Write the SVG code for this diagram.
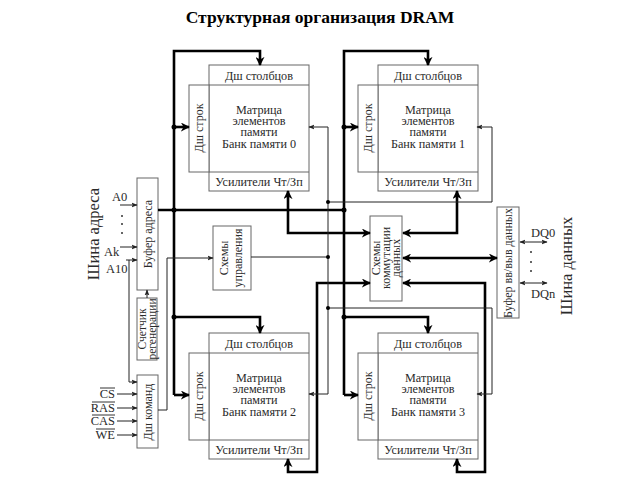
<svg xmlns="http://www.w3.org/2000/svg" width="640" height="480" viewBox="0 0 640 480">
<style>
text{font-family:"Liberation Serif","Times New Roman",serif;fill:#2a2a2a}
.t{font-size:12.2px;text-anchor:middle}
.r{font-size:12px;text-anchor:middle;dominant-baseline:central}
.lb{font-size:12.5px}
.bx{fill:#fff;stroke:#666;stroke-width:1}
.ln{fill:none;stroke:#666;stroke-width:1}
.tk{fill:none;stroke:#000;stroke-width:2.6}
.tn{fill:none;stroke:#222;stroke-width:1}
</style>
<defs>
<marker id="ak" viewBox="0 0 10 10" refX="9" refY="5" markerWidth="9" markerHeight="9" markerUnits="userSpaceOnUse" orient="auto-start-reverse"><path d="M0,0 L10,5 L0,10 L3,5 z" fill="#000"/></marker>
<marker id="an" viewBox="0 0 10 10" refX="9" refY="5" markerWidth="6" markerHeight="6" markerUnits="userSpaceOnUse" orient="auto-start-reverse"><path d="M0,1 L10,5 L0,9 L2,5 z" fill="#222"/></marker>
<g id="bank">
<rect class="bx" x="209" y="65" width="100" height="126"/>
<rect class="bx" x="189" y="85" width="20" height="87"/>
<line class="ln" x1="209" y1="85" x2="309" y2="85"/>
<line class="ln" x1="209" y1="172" x2="309" y2="172"/>
<text class="t" x="259" y="80">Дш столбцов</text>
<text class="t" x="259" y="114">Матрица</text>
<text class="t" x="259" y="125">элементов</text>
<text class="t" x="259" y="136">памяти</text>
<text class="t" x="259" y="186">Усилители Чт/Зп</text>
<text class="r" transform="translate(199,128) rotate(-90)">Дш строк</text>
</g>
</defs>

<text x="320" y="23" style="font-size:17.5px;font-weight:bold;text-anchor:middle;fill:#000">Структурная организация DRAM</text>

<g id="bank0"><use href="#bank"/><text class="t" x="259" y="148">Банк памяти 0</text></g>
<g id="bank1" transform="translate(169,0)"><use href="#bank"/><text class="t" x="259" y="148">Банк памяти 1</text></g>
<g id="bank2" transform="translate(0,268)"><use href="#bank"/><text class="t" x="259" y="148">Банк памяти 2</text></g>
<g id="bank3" transform="translate(169,268)"><use href="#bank"/><text class="t" x="259" y="148">Банк памяти 3</text></g>

<g id="addr-buffer"><rect class="bx" x="137" y="178" width="21" height="112"/><text class="r" transform="translate(148,234) rotate(-90)">Буфер адреса</text></g>
<g id="refresh-counter"><rect class="bx" x="137" y="298" width="20" height="62"/><text class="r" style="font-size:11.5px" transform="translate(142,329) rotate(-90)">Счетчик</text><text class="r" style="font-size:11.5px" transform="translate(152,329) rotate(-90)">регенерации</text></g>
<g id="cmd-decoder"><rect class="bx" x="137" y="375" width="21" height="73"/><text class="r" transform="translate(148,412) rotate(-90)">Дш команд</text></g>
<g id="control"><rect class="bx" x="213" y="226" width="38" height="64"/><text class="r" transform="translate(224,258) rotate(-90)">Схемы</text><text class="r" transform="translate(238,258) rotate(-90)">управления</text></g>
<g id="switch"><rect class="bx" x="370" y="216" width="32" height="85"/><text class="r" transform="translate(376,258) rotate(-90)">Схемы</text><text class="r" transform="translate(386,258) rotate(-90)">коммутации</text><text class="r" transform="translate(396,258) rotate(-90)">данных</text></g>
<g id="io-buffer"><rect class="bx" x="497" y="207" width="22" height="111"/><text class="r" transform="translate(508,263) rotate(-90)">Буфер вв/выв данных</text></g>

<g id="labels">
<text class="r" style="font-size:16.5px" transform="translate(93,234) rotate(-90)">Шина адреса</text>
<text class="r" style="font-size:16.5px" transform="translate(566,266) rotate(-90)">Шина данных</text>
<text class="lb" x="112" y="201">A0</text>
<text class="lb" x="104" y="256">Ak</text>
<text class="lb" x="106" y="273">A10</text>
<text class="lb" x="115" y="398" text-anchor="end">CS</text>
<text class="lb" x="115" y="412" text-anchor="end">RAS</text>
<text class="lb" x="115" y="425" text-anchor="end">CAS</text>
<text class="lb" x="115" y="439" text-anchor="end">WE</text>
<g stroke="#333" stroke-width="1">
<line x1="100" y1="388" x2="115" y2="388"/>
<line x1="92" y1="402" x2="115" y2="402"/>
<line x1="92" y1="415" x2="115" y2="415"/>
<line x1="96" y1="429" x2="115" y2="429"/>
</g>
<text class="lb" x="531" y="237">DQ0</text>
<text class="lb" x="531" y="298">DQn</text>
<circle cx="122" cy="216" r="1" fill="#333"/><circle cx="122" cy="224" r="1" fill="#333"/><circle cx="122" cy="233" r="1" fill="#333"/>
<circle cx="531" cy="252" r="1" fill="#333"/><circle cx="531" cy="262" r="1" fill="#333"/><circle cx="531" cy="271" r="1" fill="#333"/>
</g>

<g id="connectors">
<path class="tk" d="M174,395 V51 H260 V65" marker-end="url(#ak)"/>
<path class="tk" d="M174,127 H189" marker-end="url(#ak)"/>
<path class="tk" d="M174,317 H260 V333" marker-end="url(#ak)"/>
<path class="tk" d="M174,395 H189" marker-end="url(#ak)"/>
<path class="tk" d="M344,395 V51 H428 V65" marker-end="url(#ak)"/>
<path class="tk" d="M344,127 H358" marker-end="url(#ak)"/>
<path class="tk" d="M344,317 H428 V333" marker-end="url(#ak)"/>
<path class="tk" d="M344,395 H358" marker-end="url(#ak)"/>
<path class="tk" d="M158,210 H344"/>
<path class="tk" d="M288,191 V233 H370" marker-start="url(#ak)" marker-end="url(#ak)"/>
<path class="tk" d="M457,191 V233 H403" marker-start="url(#ak)" marker-end="url(#ak)"/>
<path class="tk" d="M403,258 H497" marker-start="url(#ak)" marker-end="url(#ak)"/>
<path class="tk" d="M288,459 V472 H317 V283 H370" marker-start="url(#ak)" marker-end="url(#ak)"/>
<path class="tk" d="M457,459 V472 H485 V283 H403" marker-start="url(#ak)" marker-end="url(#ak)"/>
<path class="tn" d="M309,127 H328 V394 H309" marker-start="url(#an)" marker-end="url(#an)"/>
<path class="tn" d="M328,202 H492 V127 H477" marker-end="url(#an)"/>
<path class="tn" d="M328,308 H492 V394 H477" marker-end="url(#an)"/>
<path class="tn" d="M251,257 H328"/>
<path class="tn" d="M158,410 H167 V258 H213" marker-end="url(#an)"/>
<path class="tn" d="M120,205 H137" marker-end="url(#an)"/>
<path class="tn" d="M120,247 H137" marker-end="url(#an)"/>
<path class="tn" d="M126,260 H137" marker-end="url(#an)"/>
<path class="tn" d="M129,260 V382 H137" marker-end="url(#an)"/>
<path class="tn" d="M147,298 V290" marker-end="url(#an)"/>
<path class="tn" d="M117,394 H137" marker-end="url(#an)"/>
<path class="tn" d="M117,408 H137" marker-end="url(#an)"/>
<path class="tn" d="M117,421 H137" marker-end="url(#an)"/>
<path class="tn" d="M117,435 H137" marker-end="url(#an)"/>
<path class="tn" d="M520,242 H547" marker-start="url(#an)" marker-end="url(#an)"/>
<path class="tn" d="M520,283 H547" marker-start="url(#an)" marker-end="url(#an)"/>
<g fill="#000">
<circle cx="174" cy="127" r="2.5"/><circle cx="174" cy="210" r="2.5"/><circle cx="174" cy="317" r="2.5"/>
<circle cx="344" cy="127" r="2.5"/><circle cx="344" cy="210" r="2.5"/><circle cx="344" cy="317" r="2.5"/>
<circle cx="328" cy="202" r="2"/><circle cx="328" cy="257" r="2"/><circle cx="328" cy="308" r="2"/>
</g>
</g>
</svg>
